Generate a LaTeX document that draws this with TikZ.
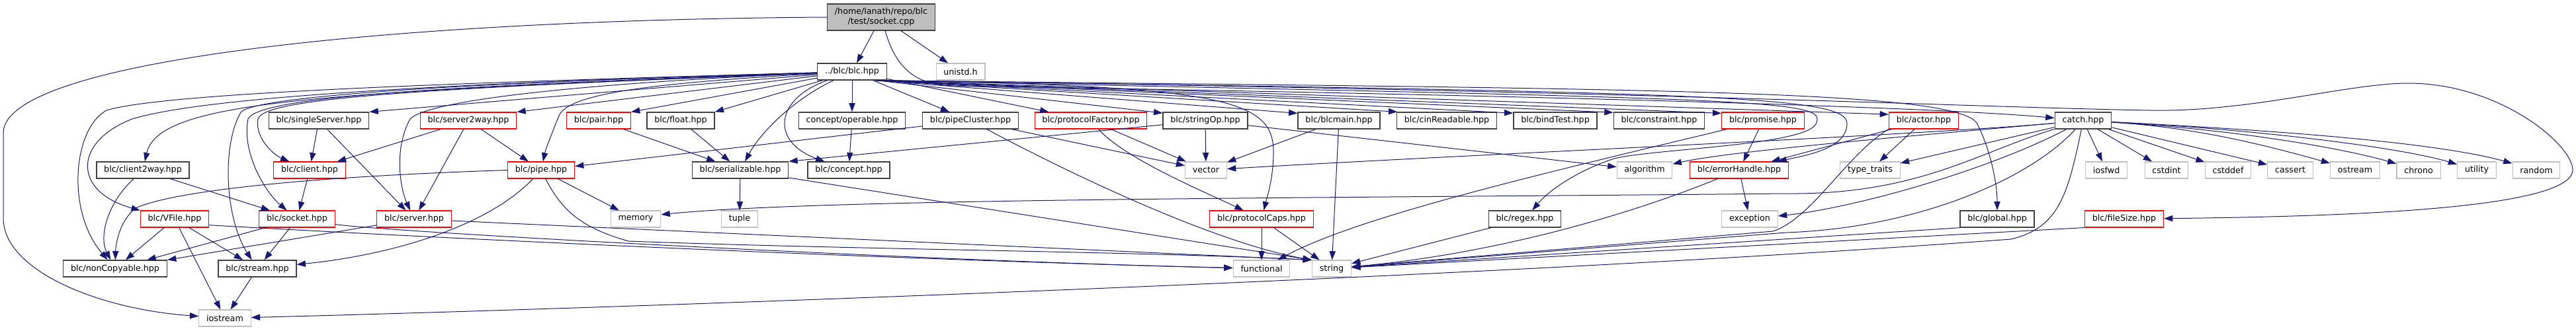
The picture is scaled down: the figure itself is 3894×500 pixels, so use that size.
\documentclass[tikz,border=0pt]{standalone}
\usepackage{fontspec}
\setmainfont{DejaVu Sans}
\usepackage{tikz}
\usetikzlibrary{arrows.meta}
\definecolor{cEdge}{RGB}{25,25,112}
\definecolor{cDark}{RGB}{64,64,64}
\definecolor{cRed} {RGB}{255,0,0}
\definecolor{cSys} {RGB}{191,191,191}
\tikzset{
  >={Triangle[length=10pt,width=7pt]},
  box/.style={draw,rectangle,minimum height=18.75pt,inner xsep=8.5pt,inner ysep=0pt,
              font=\fontsize{9.5}{11.25}\selectfont,fill=white},
  hdr/.style={box,draw=cDark,line width=1pt},          % documented header
  hdrR/.style={box,draw=cRed,line width=0.8pt},        % header with hidden includes
  sysh/.style={box,draw=cSys,line width=0.8pt},        % system header
  root/.style={box,fill=cSys,draw=cDark,line width=1pt,minimum height=30pt,align=center},
  dep/.style={->,draw=cEdge,line width=0.75pt},
}
\begin{document}
\begin{tikzpicture}[x=0.75pt,y=-0.75pt]
  \useasboundingbox (0,0) rectangle (3894,500);
  % top
  \node[root] (root)   at (1332,26)    {/home/lanath/repo/blc\\/test/socket.cpp};
  \node[hdr]  (blc)    at (1288,108.5) {../blc/blc.hpp};
  \node[sysh] (unistd) at (1452,108.5) {unistd.h};
  % row 2
  \node[hdr]  (singleServer)    at (482,182.5)  {blc/singleServer.hpp};
  \node[hdrR] (server2way)      at (708,182.5)  {blc/server2way.hpp};
  \node[hdrR] (pair)            at (905,182.5)  {blc/pair.hpp};
  \node[hdr]  (float)           at (1029,182.5) {blc/float.hpp};
  \node[hdr]  (operable)        at (1288,182.5) {concept/operable.hpp};
  \node[hdr]  (pipeCluster)     at (1467,182.5) {blc/pipeCluster.hpp};
  \node[hdrR] (protocolFactory) at (1649,182.5) {blc/protocolFactory.hpp};
  \node[hdr]  (stringOp)        at (1822,182.5) {blc/stringOp.hpp};
  \node[hdr]  (blcmain)         at (2024,182.5) {blc/blcmain.hpp};
  \node[hdr]  (cinReadable)     at (2187,182.5) {blc/cinReadable.hpp};
  \node[hdr]  (bindTest)        at (2351,182.5) {blc/bindTest.hpp};
  \node[hdr]  (constraint)      at (2508,182.5) {blc/constraint.hpp};
  \node[hdrR] (promise)         at (2665,182.5) {blc/promise.hpp};
  \node[hdrR] (actor)           at (2908,182.5) {blc/actor.hpp};
  \node[hdr]  (catch)           at (3149,182.5) {catch.hpp};
  % row 3
  \node[hdr]  (client2way)   at (216,257.5)  {blc/client2way.hpp};
  \node[hdrR] (client)       at (468,257.5)  {blc/client.hpp};
  \node[hdrR] (pipe)         at (818,257.5)  {blc/pipe.hpp};
  \node[hdr]  (serializable) at (1119,257.5) {blc/serializable.hpp};
  \node[hdr]  (concept)      at (1283,257.5) {blc/concept.hpp};
  \node[sysh] (vector)       at (1823,257.5) {vector};
  \node[sysh] (algorithm)    at (2486,257.5) {algorithm};
  \node[hdrR] (errorHandle)  at (2629,257.5) {blc/errorHandle.hpp};
  \node[sysh] (typeTraits)   at (2827,257.5) {type\_traits};
  \node[sysh] (iosfwd)       at (3184,257.5) {iosfwd};
  \node[sysh] (cstdint)      at (3275,257.5) {cstdint};
  \node[sysh] (cstddef)      at (3368,257.5) {cstddef};
  \node[sysh] (cassert)      at (3462,257.5) {cassert};
  \node[sysh] (ostream)      at (3560,257.5) {ostream};
  \node[sysh] (chrono)       at (3656,257.5) {chrono};
  \node[sysh] (utility)      at (3744,257.5) {utility};
  \node[sysh] (random)       at (3834,257.5) {random};
  % row 4
  \node[hdrR] (VFile)        at (264,331.5)  {blc/VFile.hpp};
  \node[hdrR] (socket)       at (449,331.5)  {blc/socket.hpp};
  \node[hdrR] (server)       at (626,331.5)  {blc/server.hpp};
  \node[sysh] (memory)       at (961,331.5)  {memory};
  \node[sysh] (tuple)        at (1118,331.5) {tuple};
  \node[hdrR] (protocolCaps) at (1907,331.5) {blc/protocolCaps.hpp};
  \node[hdr]  (regex)        at (2305,331.5) {blc/regex.hpp};
  \node[sysh] (exception)    at (2645,331.5) {exception};
  \node[hdr]  (global)       at (3019,331.5) {blc/global.hpp};
  \node[hdrR] (fileSize)     at (3211,331.5) {blc/fileSize.hpp};
  % row 5 and 6
  \node[hdr]  (nonCopyable)  at (174,406.5)  {blc/nonCopyable.hpp};
  \node[hdr]  (stream)       at (389,406.5)  {blc/stream.hpp};
  \node[sysh] (functional)   at (1907,406.5) {functional};
  \node[sysh] (string)       at (2013,406.5) {string};
  \node[sysh] (iostream)     at (340,481.5)  {iostream};

  % socket.cpp
  \draw[dep](root)--(blc);
  \draw[dep](root)--(unistd);
  \draw[dep](root.west) .. controls (600,30) and (10,90) .. (5,200) -- (5,330)
            .. controls (5,410) and (150,468) .. (iostream);
  \draw[dep](root) .. controls (1355,105) and (1385,128) .. (1440,130)
            .. controls (2200,142) and (2900,160) .. (catch);
  % blc.hpp -> second row
  \draw[dep](blc)--(singleServer.north east);
  \draw[dep](blc)--(server2way.north east);
  \draw[dep](blc)--(pair.north east);
  \draw[dep](blc)--(float.north east);
  \draw[dep](blc)--(operable);
  \draw[dep](blc)--(pipeCluster);
  \draw[dep](blc)--(protocolFactory);
  \draw[dep](blc.-20)--(stringOp.170);
  \draw[dep](blc.-20)--(blcmain.170);
  \draw[dep](blc.-20)--(cinReadable.170);
  \draw[dep](blc.-20)--(bindTest.170);
  \draw[dep](blc.-20)--(constraint.170);
  \draw[dep](blc.-20)--(promise.170);
  \draw[dep](blc.-20)--(actor.170);
  % blc.hpp -> deeper, left side
  \draw[dep](blc) .. controls (500,140) and (240,150) .. (client2way);
  \draw[dep](blc) .. controls (600,128) and (300,150) .. (200,180)
           .. controls (110,215) and (110,290) .. (VFile.north west);
  \draw[dep](blc) .. controls (700,125) and (250,140) .. (161,167)
           .. controls (110,195) and (100,320) .. (nonCopyable);
  \draw[dep](blc) .. controls (600,128) and (380,150) .. (364,170)
           .. controls (335,220) and (340,330) .. (stream);
  \draw[dep](blc) .. controls (600,132) and (390,150) .. (375,180)
           .. controls (365,230) and (400,290) .. (socket);
  \draw[dep](blc) .. controls (600,135) and (400,150) .. (390,180)
           .. controls (385,210) and (415,235) .. (client);
  \draw[dep](blc) .. controls (900,125) and (650,150) .. (620,180)
           .. controls (595,225) and (605,285) .. (server);
  \draw[dep](blc) .. controls (1000,125) and (860,140) .. (845,175)
           .. controls (835,200) and (825,225) .. (pipe);
  \draw[dep](blc) .. controls (1200,150) and (1150,200) .. (serializable);
  \draw[dep](blc) .. controls (1170,150) and (1165,215) .. (concept);
  % blc.hpp -> deeper, right side
  \draw[dep](blc.-20) .. controls (1850,130) and (1925,150) .. (1925,230)
           .. controls (1925,270) and (1915,300) .. (protocolCaps);
  \draw[dep](blc.-20) .. controls (2650,150) and (2760,150) .. (2746,185)
           .. controls (2740,220) and (2500,225) .. (2440,240)
           .. controls (2380,260) and (2340,290) .. (regex);
  \draw[dep](blc.-20) .. controls (2600,140) and (2792,145) .. (2792,187)
           .. controls (2792,225) and (2730,235) .. (errorHandle);
  \draw[dep](blc.-20) .. controls (2500,135) and (2975,135) .. (2990,190)
           .. controls (3010,230) and (3019,280) .. (global);
  \draw[dep](blc.-20) .. controls (2500,138) and (3000,163) .. (3250,167)
           .. controls (3400,170) and (3550,126) .. (3640,126)
           .. controls (3780,126) and (3889,220) .. (3889,257)
           .. controls (3889,320) and (3500,328) .. (fileSize);
  % second row
  \draw[dep](singleServer)--(client);
  \draw[dep](singleServer)--(server);
  \draw[dep](server2way)--(client);
  \draw[dep](server2way)--(server);
  \draw[dep](server2way)--(pipe);
  \draw[dep](pair)--(serializable);
  \draw[dep](float)--(serializable);
  \draw[dep](operable)--(concept);
  \draw[dep](pipeCluster)--(pipe);
  \draw[dep](pipeCluster)--(vector);
  \draw[dep](pipeCluster) .. controls (1650,280) and (1850,370) .. (string.north west);
  \draw[dep](protocolFactory)--(vector);
  \draw[dep](protocolFactory) .. controls (1700,240) and (1820,290) .. (protocolCaps);
  \draw[dep](stringOp)--(serializable.north east);
  \draw[dep](stringOp)--(vector);
  \draw[dep](stringOp)--(algorithm);
  \draw[dep](blcmain)--(vector);
  \draw[dep](blcmain)--(string);
  \draw[dep](promise)--(errorHandle);
  \draw[dep](promise) .. controls (2300,270) and (2050,330) .. (functional);
  \draw[dep](actor)--(typeTraits);
  \draw[dep](actor)--(errorHandle);
  \draw[dep](actor.south west) .. controls (2790,235) and (2740,330) .. (2680,350) -- (string);
  % catch.hpp
  \draw[dep](catch) .. controls (2900,205) and (2200,235) .. (vector);
  \draw[dep](catch) .. controls (2900,205) and (2620,228) .. (algorithm);
  \draw[dep](catch)--(typeTraits);
  \draw[dep](catch) .. controls (2990,230) and (2900,295) .. (2700,293)
           .. controls (2000,300) and (1250,300) .. (memory.10);
  \draw[dep](catch) .. controls (3000,260) and (2800,315) .. (exception);
  \draw[dep](catch) .. controls (3070,270) and (2900,345) .. (2700,352) -- (string);
  \draw[dep](catch) .. controls (3125,300) and (3110,345) .. (3040,362)
           .. controls (2200,425) and (800,470) .. (iostream);
  \draw[dep](catch)--(iosfwd);
  \draw[dep](catch)--(cstdint);
  \draw[dep](catch)--(cstddef);
  \draw[dep](catch)--(cassert);
  \draw[dep](catch) .. controls (3324,193) and (3432,222) .. (ostream);
  \draw[dep](catch) .. controls (3364,195) and (3533,222) .. (chrono);
  \draw[dep](catch) .. controls (3400,195) and (3624,222) .. (utility);
  \draw[dep](catch) .. controls (3500,200) and (3700,220) .. (random);
  % third row
  \draw[dep](client2way) .. controls (160,310) and (150,360) .. (nonCopyable);
  \draw[dep](client2way)--(socket);
  \draw[dep](client)--(socket);
  \draw[dep](pipe)--(memory);
  \draw[dep](pipe.west) .. controls (450,268) and (260,290) .. (205,315)
            .. controls (180,335) and (175,370) .. (nonCopyable);
  \draw[dep](pipe) .. controls (740,340) and (600,385) .. (stream);
  \draw[dep](pipe) .. controls (850,320) and (880,345) .. (950,365)
            .. controls (1300,378) and (1700,380) .. (string.north west);
  \draw[dep](serializable)--(tuple);
  \draw[dep](serializable)--(string.north west);
  \draw[dep](errorHandle)--(exception);
  \draw[dep](errorHandle) .. controls (2450,330) and (2250,385) .. (string);
  % fourth row
  \draw[dep](VFile)--(nonCopyable);
  \draw[dep](VFile)--(stream);
  \draw[dep](VFile)--(iostream);
  \draw[dep](VFile.-10) .. controls (600,357) and (1300,392) .. (functional);
  \draw[dep](socket)--(nonCopyable);
  \draw[dep](socket)--(stream);
  \draw[dep](socket.-8) .. controls (600,352) and (1400,395) .. (functional);
  \draw[dep](server)--(nonCopyable);
  \draw[dep](server)--(string.north west);
  \draw[dep](protocolCaps)--(functional);
  \draw[dep](protocolCaps)--(string);
  \draw[dep](regex)--(string);
  \draw[dep](global.south west)--(string);
  \draw[dep](fileSize.south west)--(string);
  % fifth row
  \draw[dep](stream)--(iostream);
\end{tikzpicture}
\end{document}
